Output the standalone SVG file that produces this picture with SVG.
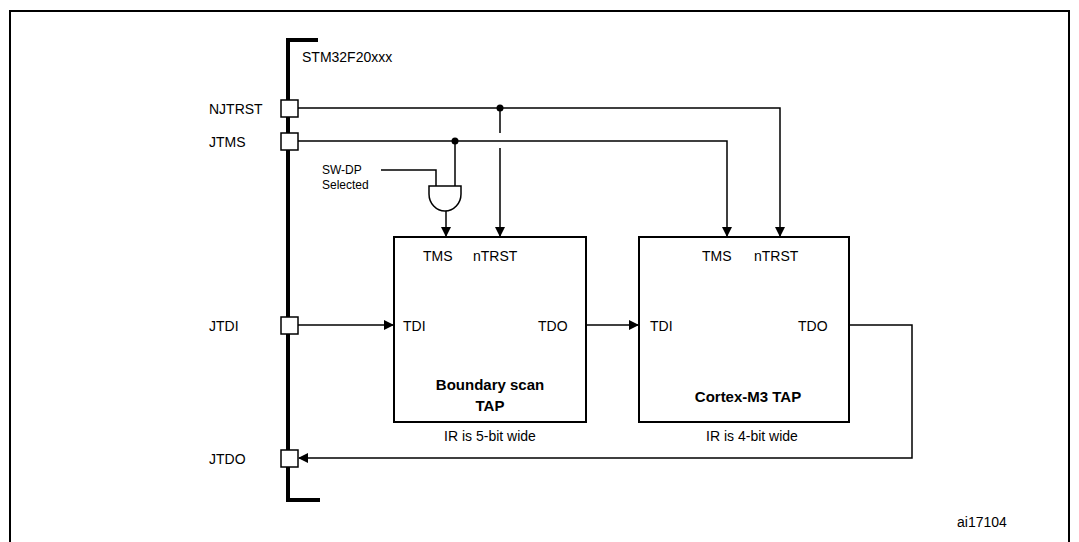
<svg xmlns="http://www.w3.org/2000/svg" width="1079" height="542" viewBox="0 0 1079 542">
<defs>
<marker id="ah" markerWidth="10" markerHeight="10" refX="9" refY="5" orient="auto" markerUnits="userSpaceOnUse"><path d="M0,0 L10,5 L0,10 z" fill="#000"/></marker>
<style>
text{font-family:"Liberation Sans",Arial,sans-serif;font-size:14px;fill:#000}
.b{font-weight:bold;font-size:15px}
.s{font-size:12px}
.w{stroke:#000;stroke-width:1.5;fill:none}
.box{stroke:#000;stroke-width:2;fill:#fff}
.pin{stroke:#000;stroke-width:1.5;fill:#fff}
</style>
</defs>
<rect width="1079" height="542" fill="#fff"/>
<path d="M10,542 V11 H1069 V542" fill="none" stroke="#000" stroke-width="2"/>
<g id="chip">
<path d="M318,40 H288 V500 H320" fill="none" stroke="#000" stroke-width="4"/>
<text x="302" y="62">STM32F20xxx</text>
</g>
<g id="connectors">
<path class="w" d="M298,108 H780 V236" marker-end="url(#ah)"/>
<path class="w" d="M500,108 V133 M500,148 V236" marker-end="url(#ah)"/>
<path class="w" d="M298,141 H727 V236" marker-end="url(#ah)"/>
<path class="w" d="M455,141 V186"/>
<path class="w" d="M381,170 H436 V186"/>
<path class="w" d="M446,211 V236" marker-end="url(#ah)"/>
<path class="w" d="M298,325 H393" marker-end="url(#ah)"/>
<path class="w" d="M586,325 H638" marker-end="url(#ah)"/>
<path class="w" d="M849,325 H912 V458 H299" marker-end="url(#ah)"/>
<circle cx="500" cy="108" r="3.5"/>
<circle cx="455" cy="141" r="3.5"/>
</g>
<g id="gate"><path d="M429,186 H461 V194 A16,17 0 0 1 429,194 Z" fill="#fff" stroke="#000" stroke-width="1.5"/>
<text class="s" x="322" y="174">SW-DP</text><text class="s" x="322" y="189">Selected</text></g>
<g id="pins">
<rect class="pin" x="281" y="100" width="17" height="17"/><text x="209" y="114">NJTRST</text>
<rect class="pin" x="281" y="133" width="17" height="17"/><text x="209" y="147">JTMS</text>
<rect class="pin" x="281" y="317" width="17" height="17"/><text x="209" y="331">JTDI</text>
<rect class="pin" x="281" y="450" width="17" height="17"/><text x="209" y="464">JTDO</text>
</g>
<g id="bscan">
<rect class="box" x="394" y="237" width="192" height="185"/>
<text x="423" y="261">TMS</text><text x="473" y="261">nTRST</text>
<text x="403" y="331">TDI</text><text x="538" y="331">TDO</text>
<text class="b" x="490" y="390" text-anchor="middle">Boundary scan</text>
<text class="b" x="490" y="411" text-anchor="middle">TAP</text>
<text x="490" y="441" text-anchor="middle">IR is 5-bit wide</text>
</g>
<g id="cortex">
<rect class="box" x="639" y="237" width="210" height="185"/>
<text x="702" y="261">TMS</text><text x="754" y="261">nTRST</text>
<text x="650" y="331">TDI</text><text x="798" y="331">TDO</text>
<text class="b" x="748" y="402" text-anchor="middle">Cortex-M3 TAP</text>
<text x="752" y="441" text-anchor="middle">IR is 4-bit wide</text>
</g>
<text x="957" y="527" font-size="13">ai17104</text>
</svg>
